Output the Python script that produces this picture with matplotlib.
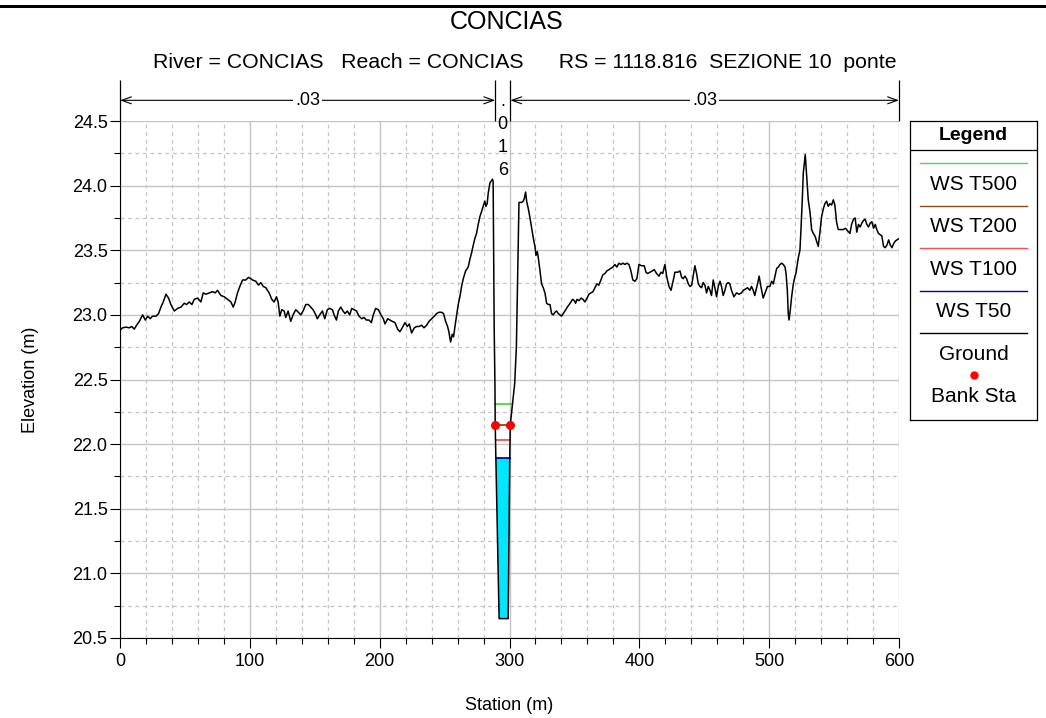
import numpy as np
import matplotlib
matplotlib.use("Agg")
import matplotlib.pyplot as plt
from matplotlib.lines import Line2D
from matplotlib.ticker import MultipleLocator, FormatStrFormatter

plt.rcParams["font.family"] = ["Liberation Sans", "DejaVu Sans"]

# ground profile (station m, elevation m)
station = [
    0, 2, 4.6, 7.2, 9, 11, 12.8, 14.9, 17.4, 19.5, 21.3, 23.3, 25, 27.7, 29.7,
    31.5, 33.3, 35.4, 37.4, 39.2, 41.8, 44.4, 46.9, 49.5, 51.3, 53.3, 55.4, 57.2,
    59.7, 62.3, 64.1, 66.2, 68.7, 71.3, 73.3, 75.1, 77.7, 80.3, 82.8, 85.4, 87.2,
    88.7, 90.5, 92.3, 94.4, 96.9, 99, 100.8, 102, 104.6, 106.7, 108.5, 110.3,
    112.3, 114.9, 116.9, 118.7, 120.5, 121.8, 123.1, 124.6, 126.4, 127.7, 129.5,
    131.5, 133.3, 135.4, 137.4, 139.2, 141, 143.1, 145.1, 146.9, 148.7, 150.8,
    152, 153.8, 155.9, 157.7, 159.7, 161.5, 163.6, 164.9, 166.7, 168.2, 170,
    171.8, 173.3, 175.1, 176.9, 178.5, 180.3, 182.1, 184.1, 186.2, 188, 189.7,
    191.8, 193.6, 195.1, 196.9, 199, 201, 202.8, 204.1, 206.2, 208, 209.7, 211.8,
    213.8, 215.6, 217.4, 219.5, 221.3, 222.8, 224.6, 226.7, 228.5, 230.3, 232.3,
    234.1, 236.2, 238, 240, 242.1, 243.8, 245.6, 247.7, 249.2, 250.8, 252.3,
    253.3, 254.6, 255.9, 256.9, 258, 259.2, 260.5, 261.8, 263.1, 264.4, 266.2,
    268.2, 269.5, 270.8, 272.1, 273.3, 274.6, 275.9, 277.2, 278.5, 279.7, 281,
    281.8, 282.8, 283.6, 284.9, 286.2, 286.9, 287.4,
    288.2, 288.8, 289.0, 289.5, 292.0, 299.0, 300.2, 300.6, 304.0, 305.3, 307.3,
    309.4, 310.6, 311.4, 312.4, 313.2, 314.5, 315.8, 317.1, 318.4, 319.6, 320.4,
    321.4, 322.2, 323.5, 324.7, 326, 327.3, 328.6, 329.9, 331.2, 332.4, 333.7,
    335, 336.3, 337.6, 338.8, 340.1, 341.4, 342.7, 344.5, 346, 347.3, 348.6,
    349.9, 350.9, 352, 353.5, 355.1, 356.6, 358.1, 359.7, 361.2, 362.8, 364.3,
    365.8, 367.3, 368.8, 370.4, 371.9, 373.5, 375, 376.6, 378.1, 379.6, 381.2,
    382.7, 384.3, 385.8, 387.4, 388.9, 390.4, 392, 393.5, 395, 396.6, 398.1,
    399.7, 401.8, 403.8, 405.1, 406.4, 408.2, 410, 411.5, 413.3, 415.1, 416.7,
    418, 419.7, 421, 422.8, 424.4, 426.2, 427.4, 429.5, 431.3, 432.6, 433.8,
    435.1, 436.4, 437.7, 439, 440.3, 441.5, 442.8, 444.1, 445.4, 446.7, 447.9,
    449.2, 450.5, 451.8, 453.1, 454.4, 455.6, 456.9, 458.2, 459.5, 460.8, 462.1,
    463.3, 464.6, 465.9, 467.2, 468.5, 469.7, 471, 472.8, 474.9, 476.7, 478.7,
    480, 481.8, 483.3, 485.1, 486.4, 487.7, 488.9, 490.8, 492.3, 493.6, 495.4,
    497.2, 498.7, 500.6, 501.9, 503.2, 504.5, 505.8, 507.1, 508.3, 509.6, 510.9,
    512.2, 513, 514, 514.7, 515.3, 516.3, 517.3, 518.6, 519.9, 520.6, 521.7,
    522.4, 523.7, 524.5, 525.5, 526.3, 527.8, 529.1, 530.1, 531.4, 532.7, 534,
    535.3, 536.5, 537.8, 539.1, 540.4, 541.7, 542.9, 544.2, 545.5, 546.8, 548.1,
    549.4, 550.6, 551.9, 553.2, 555.3, 557.1, 558.9, 560.4, 562.2, 563.5, 564.9,
    566.2, 567.5, 568.8, 570.1, 571.4, 572.6, 573.9, 575.2, 576.5, 577.8, 579.1,
    580.4, 581.7, 582.9, 584.2, 585.5, 586.8, 588.1, 589.4, 590.7, 592, 593.3,
    594.6, 595.8, 597.1, 598.4, 600,
]
elevation = [
    22.88, 22.90, 22.905, 22.90, 22.91, 22.89, 22.92, 22.95, 23.0, 22.96, 22.99,
    22.97, 22.99, 22.99, 23.01, 23.06, 23.10, 23.16, 23.13, 23.08, 23.03, 23.05,
    23.06, 23.09, 23.08, 23.10, 23.08, 23.12, 23.13, 23.10, 23.17, 23.16, 23.17,
    23.18, 23.17, 23.19, 23.15, 23.14, 23.12, 23.10, 23.06, 23.10, 23.17, 23.22,
    23.27, 23.27, 23.29, 23.28, 23.27, 23.26, 23.23, 23.25, 23.22, 23.21, 23.17,
    23.12, 23.10, 23.14, 23.10, 22.99, 23.04, 23.03, 22.98, 23.03, 22.95, 23.0,
    23.04, 23.02, 23.0, 23.03, 23.08, 23.08, 23.06, 23.04, 23.0, 22.97, 23.0,
    23.03, 22.97, 23.04, 23.05, 23.04, 23.0, 22.96, 23.03, 23.06, 23.03, 23.01,
    23.03, 23.0, 23.05, 23.04, 23.03, 22.99, 22.97, 22.98, 22.96, 22.96, 22.94,
    23.0, 23.05, 23.04, 23.0, 22.97, 22.93, 22.97, 22.96, 22.95, 22.94, 22.89,
    22.87, 22.90, 22.94, 22.91, 22.93, 22.86, 22.90, 22.91, 22.91, 22.92, 22.90,
    22.92, 22.95, 22.97, 22.99, 23.01, 23.02, 23.02, 23.01, 22.95, 22.91, 22.87,
    22.79, 22.85, 22.83, 22.91, 22.99, 23.08, 23.14, 23.22, 23.28, 23.34, 23.37,
    23.43, 23.48, 23.54, 23.59, 23.63, 23.70, 23.76, 23.80, 23.84, 23.88, 23.84,
    23.86, 23.94, 24.02, 24.04, 24.05, 24.03,
    22.9, 22.45, 22.15, 21.89, 20.65, 20.65, 21.89, 22.15, 22.47, 22.75, 23.87,
    23.87, 23.88, 23.90, 23.95, 23.88, 23.82, 23.75, 23.67, 23.59, 23.53, 23.46,
    23.49, 23.44, 23.34, 23.24, 23.21, 23.17, 23.09, 23.08, 23.08, 23.01, 23.0,
    23.02, 23.03, 23.01, 23.0, 22.99, 23.01, 23.03, 23.06, 23.08, 23.10, 23.12,
    23.11, 23.09, 23.12, 23.11, 23.13, 23.12, 23.10, 23.13, 23.16, 23.17, 23.18,
    23.21, 23.24, 23.23, 23.27, 23.31, 23.32, 23.34, 23.35, 23.36, 23.37, 23.39,
    23.37, 23.40, 23.39, 23.40, 23.39, 23.40, 23.39, 23.34, 23.27, 23.26, 23.28,
    23.39, 23.38, 23.38, 23.33, 23.32, 23.33, 23.34, 23.35, 23.32, 23.30, 23.33,
    23.32, 23.39, 23.30, 23.22, 23.19, 23.27, 23.33, 23.33, 23.34, 23.29, 23.28,
    23.30, 23.28, 23.24, 23.22, 23.23, 23.30, 23.38, 23.32, 23.24, 23.22, 23.21,
    23.25, 23.23, 23.17, 23.22, 23.19, 23.15, 23.27, 23.21, 23.14, 23.22, 23.26,
    23.22, 23.15, 23.19, 23.24, 23.25, 23.24, 23.19, 23.14, 23.17, 23.16, 23.17,
    23.19, 23.20, 23.21, 23.19, 23.22, 23.19, 23.15, 23.23, 23.30, 23.22, 23.13,
    23.18, 23.22, 23.22, 23.26, 23.24, 23.30, 23.36, 23.37, 23.39, 23.40, 23.39,
    23.37, 23.32, 23.19, 23.01, 22.96, 23.04, 23.14, 23.24, 23.30, 23.32, 23.39,
    23.44, 23.50, 23.66, 23.89, 24.10, 24.24, 24.04, 23.89, 23.80, 23.66, 23.63,
    23.61, 23.57, 23.53, 23.64, 23.76, 23.82, 23.86, 23.88, 23.84, 23.86, 23.85,
    23.89, 23.85, 23.72, 23.66, 23.66, 23.66, 23.67, 23.65, 23.63, 23.70, 23.74,
    23.75, 23.64, 23.70, 23.68, 23.71, 23.73, 23.74, 23.70, 23.68, 23.71, 23.72,
    23.67, 23.70, 23.66, 23.63, 23.62, 23.61, 23.53, 23.52, 23.54, 23.58, 23.54,
    23.52, 23.55, 23.57, 23.58, 23.59,
]

ws_names = ["WS T500", "WS T200", "WS T100", "WS T50"]
ws_levels = [22.31, 22.15, 22.03, 21.89]
ws_colors = ["#3ee03e", "#8a4a10", "#ff4c4c", "#0000c8"]

bank_sta = [289.0, 300.6]
n_breaks = [0, 289.0, 300.6, 600]
n_values = [".03", ".016", ".03"]

sta = np.array(station)
elev = np.array(elevation)


def wet_limits(level):
    # walk out from the channel invert until the ground rises above the level
    i0 = int(np.argmin(elev))
    i = i0
    while elev[i] < level:
        i -= 1
    j = i0
    while elev[j] < level:
        j += 1
    xl = np.interp(level, [elev[i + 1], elev[i]], [sta[i + 1], sta[i]])
    xr = np.interp(level, [elev[j - 1], elev[j]], [sta[j - 1], sta[j]])
    return xl, xr, i, j


fig = plt.figure(figsize=(10.46, 7.18), dpi=100)
ax = fig.add_axes([120 / 1046, 1 - 638 / 718, 779 / 1046, 517 / 718])

# water of the lowest profile
xl, xr, i, j = wet_limits(ws_levels[-1])
poly_x = [xl] + list(sta[i + 1:j]) + [xr]
poly_y = [ws_levels[-1]] + list(elev[i + 1:j]) + [ws_levels[-1]]
ax.fill(poly_x, poly_y, color="#00e6ff", lw=0, zorder=2)

for name, level, color in zip(ws_names, ws_levels, ws_colors):
    a, b, _, _ = wet_limits(level)
    ax.plot([a, b], [level, level], color=color, lw=1.3, zorder=3)

ax.plot(sta, elev, color="black", lw=1.1, zorder=4)
bank_elev = np.interp(bank_sta, sta, elev)
ax.plot(bank_sta, bank_elev, "o", color="#ff0000", ms=6.5, mec="none", zorder=5)

ax.set_xlim(0, 600)
ax.set_ylim(20.5, 24.5)
ax.xaxis.set_major_locator(MultipleLocator(100))
ax.xaxis.set_minor_locator(MultipleLocator(20))
ax.yaxis.set_major_locator(MultipleLocator(0.5))
ax.yaxis.set_minor_locator(MultipleLocator(0.25))
ax.yaxis.set_major_formatter(FormatStrFormatter("%.1f"))
ax.grid(which="major", color="#c4c4c4", lw=1.0, ls="-")
ax.grid(which="minor", color="#c4c4c4", lw=0.9, ls=(0, (3, 3)))
ax.set_axisbelow(True)
for side in ["top", "right"]:
    ax.spines[side].set_visible(False)
ax.tick_params(which="major", length=7, width=0.8, labelsize=13, direction="out")
ax.tick_params(axis="y", which="major", pad=2)
ax.tick_params(which="minor", length=4, width=0.8, direction="out")
ax.set_xlabel("Station (m)", fontsize=13, labelpad=20)
ax.set_ylabel("Elevation (m)", fontsize=13, labelpad=24)

# manning's n bands over the plot
tr = ax.get_xaxis_transform()
ax.vlines(n_breaks, 1.0, 1.079, transform=tr, color="black", lw=0.9, clip_on=False)
for k, n in enumerate(n_values):
    a, b = n_breaks[k], n_breaks[k + 1]
    mid = (a + b) / 2
    if b - a > 50:
        ax.annotate("", xy=(b, 1.04), xytext=(a, 1.04), xycoords=tr, textcoords=tr,
                    arrowprops=dict(arrowstyle="<->,head_length=0.7,head_width=0.25",
                                    lw=0.8, color="black", shrinkA=0, shrinkB=0))
        ax.text(mid, 1.04, n, transform=tr, ha="center", va="center", fontsize=13,
                bbox=dict(facecolor="white", edgecolor="none", pad=1.5))
    else:
        ax.text(mid, 1.054, "\n".join(n), transform=tr, ha="center", va="top",
                fontsize=13, linespacing=1.45)

fig.text(507 / 1046, 1 - 22 / 718, "CONCIAS", ha="center", va="center", fontsize=18)
fig.text(525 / 1046, 1 - 62 / 718,
         "River = CONCIAS   Reach = CONCIAS      RS = 1118.816  SEZIONE 10  ponte",
         ha="center", va="center", fontsize=15.3)
fig.add_artist(Line2D([0, 1], [1 - 6 / 718] * 2, color="black", lw=2.2))

# legend drawn as its own little box
lg = fig.add_axes([910 / 1046, 1 - 420 / 718, 127 / 1046, 299 / 718])
lg.set_xlim(0, 127)
lg.set_ylim(299, 0)
lg.set_xticks([])
lg.set_yticks([])
for s in lg.spines.values():
    s.set_linewidth(0.9)
lg.axhline(29, color="black", lw=0.9)
lg.text(63.5, 14, "Legend", ha="center", va="center", fontsize=14, fontweight="bold")
entries = list(zip(ws_names, ws_colors)) + [("Ground", "black")]
for k, (name, color) in enumerate(entries):
    y = 42 + k * 42.5
    lg.plot([10, 117], [y, y], color=color, lw=1.0)
    lg.text(63.5, y + 21, name, ha="center", va="center", fontsize=15)
lg.plot([63.5], [254], "o", color="#ff0000", ms=6, mec="none")
lg.text(63.5, 275, "Bank Sta", ha="center", va="center", fontsize=15)

fig.savefig("out.png", dpi=100)
